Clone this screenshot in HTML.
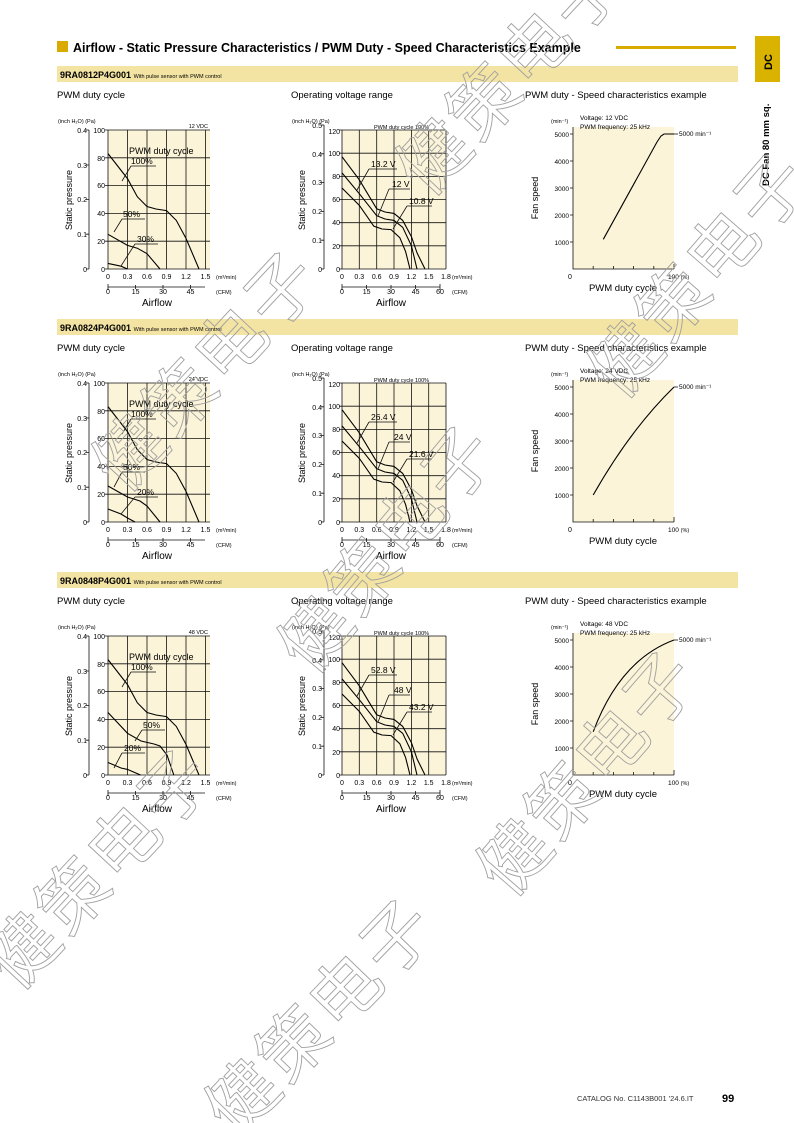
<!DOCTYPE html>
<html><head><meta charset="utf-8"><style>
html,body{margin:0;padding:0;background:#fff;width:794px;height:1123px;overflow:hidden;}
svg{display:block;overflow:hidden;font-family:"Liberation Sans","Noto Sans CJK SC",sans-serif;}
.g{stroke:#111;stroke-width:0.8;fill:none}
.c{stroke:#000;stroke-width:1.1;fill:none}
.t5{font-size:5.5px}
.t6{font-size:6.5px}
.t7{font-size:7px}
.wm{font-family:"Noto Sans CJK SC","WenQuanYi Zen Hei",sans-serif;font-size:70px;letter-spacing:4px;fill:none;stroke:#a0a0a0;stroke-width:0.9}
</style></head><body>
<svg width="794" height="1123" viewBox="0 0 794 1123" xmlns="http://www.w3.org/2000/svg">
<defs><clipPath id="pg"><rect x="0" y="0" width="794" height="1123"/></clipPath></defs>
<rect x="57" y="41" width="11" height="11" fill="#d9ab00"/>
<text x="73" y="52" font-size="12.5" font-weight="bold">Airflow - Static Pressure Characteristics / PWM Duty - Speed Characteristics Example</text>
<rect x="616" y="46" width="120" height="3" fill="#d9ab00"/>
<rect x="755" y="36" width="25" height="46" fill="#d9b300"/>
<text transform="translate(772,70) rotate(-90)" font-size="11" font-weight="bold">DC</text>
<text transform="translate(769,186) rotate(-90)" font-size="9.5" font-weight="bold">DC Fan 80 mm sq.</text>

<g>
<rect x="57" y="66" width="681" height="16" fill="#f3e4a4"/>
<text x="60" y="78" font-size="9" font-weight="bold">9RA0812P4G001 <tspan font-size="5.5" font-weight="normal">With pulse sensor with PWM control</tspan></text>
<text x="57" y="98" font-size="9.5">PWM duty cycle</text>
<text x="291" y="98" font-size="9.5">Operating voltage range</text>
<text x="525" y="98" font-size="9.5">PWM duty - Speed characteristics example</text>
</g>
<g transform="translate(0,253)">
<rect x="57" y="66" width="681" height="16" fill="#f3e4a4"/>
<text x="60" y="78" font-size="9" font-weight="bold">9RA0824P4G001 <tspan font-size="5.5" font-weight="normal">With pulse sensor with PWM control</tspan></text>
<text x="57" y="98" font-size="9.5">PWM duty cycle</text>
<text x="291" y="98" font-size="9.5">Operating voltage range</text>
<text x="525" y="98" font-size="9.5">PWM duty - Speed characteristics example</text>
</g>
<g transform="translate(0,506)">
<rect x="57" y="66" width="681" height="16" fill="#f3e4a4"/>
<text x="60" y="78" font-size="9" font-weight="bold">9RA0848P4G001 <tspan font-size="5.5" font-weight="normal">With pulse sensor with PWM control</tspan></text>
<text x="57" y="98" font-size="9.5">PWM duty cycle</text>
<text x="291" y="98" font-size="9.5">Operating voltage range</text>
<text x="525" y="98" font-size="9.5">PWM duty - Speed characteristics example</text>
</g>

<g id="frames">
<rect x="108" y="130" width="102" height="139" fill="#fbf4d8"/>
<path class="g" d="M127.5 130V269M147 130V269M166.5 130V269M186 130V269M205.5 130V269M108 130H210M108 157.8H210M108 185.6H210M108 213.4H210M108 241.2H210"/>
<path class="g" d="M108 130V269H210"/>
<path class="g" d="M89 130V269M86 130H89M86 165H89M86 199.5H89M86 234.2H89M86 269H89M105 130H108M105 157.8H108M105 185.6H108M105 213.4H108M105 241.2H108M105 269H108"/>
<path class="g" d="M108 287H205M108 284V290M135.6 285V289M163 285V289M190.5 285V289"/>
<rect x="342" y="130" width="104" height="139" fill="#fbf4d8"/>
<path class="g" d="M359.3 130V269M376.7 130V269M394 130V269M411.4 130V269M428.7 130V269M446 130V269M342 130H446M342 153.2H446M342 176.4H446M342 199.5H446M342 222.7H446M342 245.8H446"/>
<path class="g" d="M342 130V269H446"/>
<path class="g" d="M324 125V269M321 125H324M321 153.8H324M321 182.6H324M321 211.4H324M321 240.2H324M321 269H324M339 130H342M339 153.2H342M339 176.4H342M339 199.5H342M339 222.7H342M339 245.8H342M339 269H342"/>
<path class="g" d="M342 287H440M342 284V290M366.6 285V289M391 285V289M415.6 285V289M440 284V290"/>
<rect x="573" y="127" width="101" height="142" fill="#fbf4d8"/>
<path class="g" d="M573 127V269H674M570 134H573M570 161H573M570 188H573M570 215H573M570 242H573M593.2 266V269M613.4 266V269M633.6 266V269M653.8 266V269M674 264V269"/>
</g>
<use href="#frames" transform="translate(0,253)"/>
<use href="#frames" transform="translate(0,506)"/>

<g id="axt">
<text x="58" y="123" class="t5">(inch H₂O)  (Pa)</text>
<g class="t7" text-anchor="end"><text x="87" y="133">0.4</text><text x="87" y="168">0.3</text><text x="87" y="202">0.2</text><text x="87" y="237">0.1</text><text x="87" y="272">0</text>
<text x="105" y="133">100</text><text x="105" y="161">80</text><text x="105" y="188">60</text><text x="105" y="216">40</text><text x="105" y="244">20</text><text x="105" y="272">0</text></g>
<text transform="translate(72,200) rotate(-90)" font-size="9" text-anchor="middle">Static pressure</text>
<g class="t7" text-anchor="middle"><text x="108" y="279">0</text><text x="127.5" y="279">0.3</text><text x="147" y="279">0.6</text><text x="166.5" y="279">0.9</text><text x="186" y="279">1.2</text><text x="205.5" y="279">1.5</text>
<text x="108" y="294">0</text><text x="135.6" y="294">15</text><text x="163" y="294">30</text><text x="190.5" y="294">45</text></g>
<text x="216" y="279" class="t5">(m³/min)</text><text x="216" y="294" class="t5">(CFM)</text>
<text x="157" y="306" font-size="10" text-anchor="middle">Airflow</text>

<text x="292" y="123" class="t5">(inch H₂O)  (Pa)</text>
<g class="t7" text-anchor="end"><text x="322" y="128">0.5</text><text x="322" y="157">0.4</text><text x="322" y="185">0.3</text><text x="322" y="214">0.2</text><text x="322" y="243">0.1</text><text x="322" y="272">0</text>
<text x="340" y="134">120</text><text x="340" y="156">100</text><text x="340" y="179">80</text><text x="340" y="202">60</text><text x="340" y="225">40</text><text x="340" y="249">20</text><text x="340" y="272">0</text></g>
<text transform="translate(305,200) rotate(-90)" font-size="9" text-anchor="middle">Static pressure</text>
<g class="t7" text-anchor="middle"><text x="342" y="279">0</text><text x="359.3" y="279">0.3</text><text x="376.7" y="279">0.6</text><text x="394" y="279">0.9</text><text x="411.4" y="279">1.2</text><text x="428.7" y="279">1.5</text><text x="446" y="279">1.8</text>
<text x="342" y="294">0</text><text x="366.6" y="294">15</text><text x="391" y="294">30</text><text x="415.6" y="294">45</text><text x="440" y="294">60</text></g>
<text x="452" y="279" class="t5">(m³/min)</text><text x="452" y="294" class="t5">(CFM)</text>
<text x="391" y="306" font-size="10" text-anchor="middle">Airflow</text>
<text x="374" y="129" class="t5">PWM duty cycle 100%</text>

<text x="551" y="123" class="t5">(min⁻¹)</text>
<g class="t6" text-anchor="end"><text x="569" y="137">5000</text><text x="569" y="164">4000</text><text x="569" y="191">3000</text><text x="569" y="218">2000</text><text x="569" y="245">1000</text></g>
<text x="568" y="279" class="t7">0</text><text x="668" y="279" class="t6">100 <tspan class="t5">(%)</tspan></text>
<text transform="translate(538,198) rotate(-90)" font-size="9" text-anchor="middle">Fan speed</text>
<text x="623" y="291" font-size="9.5" text-anchor="middle">PWM duty cycle</text>
<path class="g" d="M674 134H678"/>
<text x="679" y="136" class="t6">5000 min⁻¹</text>
</g>
<use href="#axt" transform="translate(0,253)"/>
<use href="#axt" transform="translate(0,506)"/>

<g class="t6">
<text x="208" y="128" text-anchor="end" class="t5">12 VDC</text>
<text x="208" y="381" text-anchor="end" class="t5">24 VDC</text>
<text x="208" y="634" text-anchor="end" class="t5">48 VDC</text>
<text x="580" y="120">Voltage: 12 VDC</text><text x="580" y="129">PWM frequency: 25 kHz</text>
<text x="580" y="373">Voltage: 24 VDC</text><text x="580" y="382">PWM frequency: 25 kHz</text>
<text x="580" y="626">Voltage: 48 VDC</text><text x="580" y="635">PWM frequency: 25 kHz</text>
</g>

<g id="cv">
<polyline class="c" points="108,153.6 127.5,178.6 137.3,196.7 147,206.5 156,209 166.5,210.6 176.3,220.4 186,238.4 199,269"/>
<polyline class="c" points="342,156.7 359.3,179.8 376.7,208.8 385,212 394,213.4 402.7,220.4 411.4,236.6 417.1,253 425,269"/>
<polyline class="c" points="342,172.9 359.3,193.7 376.7,215.7 385,219 394,220.4 402.7,227.3 411.4,245.8 417,269"/>
<polyline class="c" points="342,188 359.3,205.3 373.8,226.2 382,229 391.1,229.6 399.8,237.7 405.6,251.6 410,269"/>
<text x="129" y="154" font-size="9">PWM duty cycle</text>
<text x="131" y="164" font-size="8.5">100%</text>
<path class="g" d="M131 166H156M131 166L122 181"/>
<path class="g" d="M369 169H397M369 169L357 190M389 189H410M389 189L378 216M407 206H432M407 206L393 229"/>
</g>
<use href="#cv" transform="translate(0,253)"/>
<use href="#cv" transform="translate(0,506)"/>
<g font-size="8.5">
<text x="371" y="167">13.2 V</text><text x="392" y="187">12 V</text><text x="409" y="204">10.8 V</text>
<text x="371" y="420">26.4 V</text><text x="394" y="440">24 V</text><text x="409" y="457">21.6 V</text>
<text x="371" y="673">52.8 V</text><text x="394" y="693">48 V</text><text x="409" y="710">43.2 V</text>
</g>

<polyline class="c" points="108,234.3 127.5,245.4 137.3,248.2 147,253.7 160,269"/>
<polyline class="c" points="108,263.4 121,266.2 127.5,269"/>
<text x="123" y="217" font-size="8.5">50%</text><path class="g" d="M122 219H145M122 219L114 232"/>
<text x="137" y="242" font-size="8.5">30%</text><path class="g" d="M135 244H158M135 244L121 266"/>
<polyline class="c" points="108,486 127.5,497 140,501 147,506 160,522"/>
<polyline class="c" points="108,509 121,514 127.5,518 135,522"/>
<text x="123" y="470" font-size="8.5">50%</text><path class="g" d="M122 472H145M122 472L114 487"/>
<text x="137" y="495" font-size="8.5">20%</text><path class="g" d="M135 497H158M135 497L121 514"/>
<polyline class="c" points="108,712.5 127.5,733.3 141,741 154,744 160,746 167,755 173.8,775"/>
<polyline class="c" points="108,762.5 121,768 127.5,769.4 140.5,775"/>
<text x="143" y="728" font-size="8.5">50%</text><path class="g" d="M142 730H165M142 730L135 741"/>
<text x="124" y="751" font-size="8.5">20%</text><path class="g" d="M122 753H145M122 753L114 768"/>

<polyline class="c" points="603.3,239.3 657,142 661,136 664,134 674,134"/>
<path class="c" d="M593.2 495Q630 430 674 387"/>
<path class="c" d="M593.2 731.8Q620 660 674 640"/>

<g class="wm" clip-path="url(#pg)">
<text transform="translate(428,199) rotate(-47)">健策电子</text>
<text transform="translate(124,495) rotate(-47)">健策电子</text>
<text transform="translate(621,402) rotate(-49)">健策电子</text>
<text transform="translate(312,677) rotate(-50)">健策电子</text>
<text transform="translate(17,993) rotate(-47)">健策电子</text>
<text transform="translate(510,900) rotate(-49)">健策电子</text>
<text transform="translate(236,1140) rotate(-46)">健策电子</text>
</g>

<text x="577" y="1101" font-size="7.5" fill="#333">CATALOG No. C1143B001 '24.6.IT</text>
<text x="722" y="1102" font-size="11" font-weight="bold">99</text>
</svg>
</body></html>
